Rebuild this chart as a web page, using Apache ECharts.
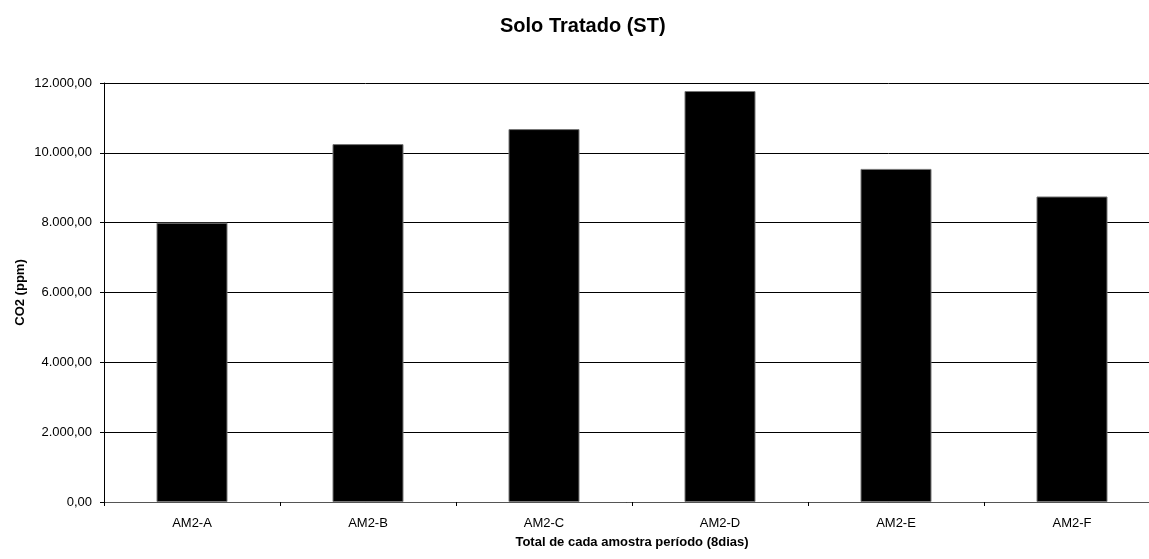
<!DOCTYPE html>
<html>
<head>
<meta charset="utf-8">
<script src="https://cdn.jsdelivr.net/npm/echarts@6/dist/echarts.min.js"></script>
<style>
  html, body { margin: 0; padding: 0; background: #ffffff; }
  #chart { width: 1149px; height: 559px; }
</style>
</head>
<body>
<div id="chart"></div>
<script>
// Total CO2 per sample over the 8-day period
const categories = ['AM2-A', 'AM2-B', 'AM2-C', 'AM2-D', 'AM2-E', 'AM2-F'];
const co2Values = [8000, 10250, 10680, 11770, 9540, 8750];
const yTicks = { min: 0, max: 12000, interval: 2000 };

// Brazilian number format: 12.000,00
function fmtBR(v) {
  const parts = v.toFixed(2).split('.');
  const intPart = parts[0].replace(/\B(?=(\d{3})+(?!\d))/g, '.');
  return intPart + ',' + parts[1];
}

const FONT = '"Liberation Sans", Arial, sans-serif';
const chart = echarts.init(document.getElementById('chart'), null, { renderer: 'canvas' });

chart.setOption({
  backgroundColor: '#ffffff',
  animation: false,
  title: {
    text: 'Solo Tratado (ST)',
    left: 495,
    top: 11,
    textStyle: { fontFamily: FONT, fontSize: 20, fontWeight: 'bold', color: '#000' }
  },
  // the plot runs a little past the right edge of the canvas
  grid: { left: 104, top: 83, width: 1056, height: 419, containLabel: false, outerBoundsMode: 'none' },
  xAxis: {
    type: 'category',
    data: categories,
    name: 'Total de cada amostra período (8dias)',
    nameLocation: 'middle',
    nameGap: 34,
    nameTextStyle: { fontFamily: FONT, fontSize: 13, fontWeight: 'bold', color: '#000' },
    axisLine: { lineStyle: { color: '#555', width: 1 } },
    axisTick: { show: true, alignWithLabel: false, length: 4, lineStyle: { color: '#000' } },
    axisLabel: { margin: 15, fontFamily: FONT, fontSize: 13, color: '#000' }
  },
  yAxis: {
    type: 'value',
    min: yTicks.min,
    max: yTicks.max,
    interval: yTicks.interval,
    name: 'CO2 (ppm)',
    nameLocation: 'middle',
    nameGap: 77,
    nameMoveOverlap: false,
    nameRotate: 90,
    nameTextStyle: { fontFamily: FONT, fontSize: 13, fontWeight: 'bold', color: '#000' },
    axisLine: { show: true, lineStyle: { color: '#000', width: 1 } },
    axisTick: { show: true, length: 4, lineStyle: { color: '#000' } },
    axisLabel: { margin: 12, fontFamily: FONT, fontSize: 13, color: '#000', formatter: fmtBR },
    splitLine: { show: true, lineStyle: { color: '#000', width: 1 } }
  },
  series: [{
    type: 'bar',
    data: co2Values,
    barWidth: 71,
    itemStyle: { color: '#000000', borderColor: '#777', borderWidth: 1 }
  }]
});
</script>
</body>
</html>
